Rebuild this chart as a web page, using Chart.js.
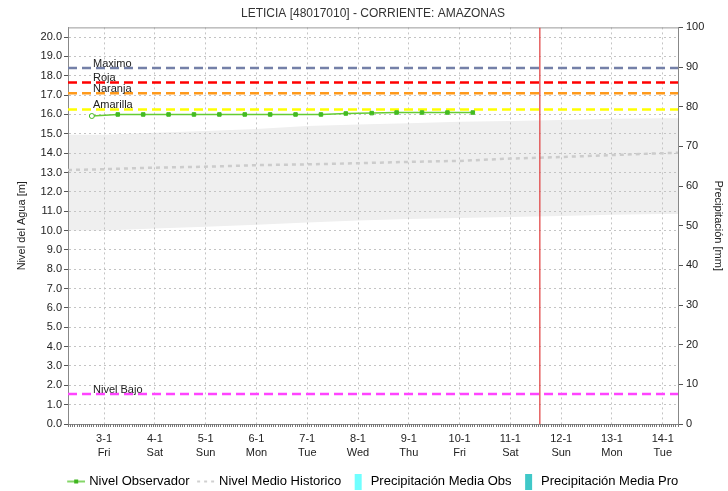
<!DOCTYPE html>
<html>
<head>
<meta charset="utf-8">
<script src="https://cdn.jsdelivr.net/npm/chart.js@4/dist/chart.umd.min.js"></script>
<style>
  html, body { margin: 0; padding: 0; background: #fff; }
  #wrap { width: 728px; height: 491px; }
</style>
</head>
<body>
<div id="wrap"><canvas id="c"></canvas></div>
<script>
// eje x en dias de enero
const tickDays = [3, 4, 5, 6, 7, 8, 9, 10, 11, 12, 13, 14];
const tickLabels = ["3-1", "4-1", "5-1", "6-1", "7-1", "8-1", "9-1", "10-1", "11-1", "12-1", "13-1", "14-1"];
const weekdays = ["Fri", "Sat", "Sun", "Mon", "Tue", "Wed", "Thu", "Fri", "Sat", "Sun", "Mon", "Tue"];
const xMin = 2.29;
const xMax = 14.3;

// ticks de los ejes y
const levelTicks = [0, 1, 2, 3, 4, 5, 6, 7, 8, 9, 10, 11, 12, 13, 14, 15, 16, 17, 18, 19, 20];
const precipTicks = [0, 10, 20, 30, 40, 50, 60, 70, 80, 90, 100];

// nivel observado (cada 12 h)
const obsDays = [2.76, 3.27, 3.77, 4.27, 4.77, 5.27, 5.77, 6.27, 6.77, 7.27, 7.76, 8.27, 8.76, 9.26, 9.76, 10.26];
const obsLevels = [15.92, 16.0, 16.0, 16.0, 16.0, 16.0, 16.0, 16.0, 16.0, 16.0, 16.05, 16.07, 16.1, 16.1, 16.1, 16.1];

// historico
const histDays = [2.29, 3, 4, 5, 6, 7, 8, 9, 10, 11, 12, 13, 14, 14.3];
const histMean = [13.13, 13.17, 13.25, 13.3, 13.38, 13.42, 13.48, 13.55, 13.6, 13.72, 13.8, 13.9, 14.0, 14.02];
const histUpper = [14.95, 14.95, 15.05, 15.15, 15.25, 15.4, 15.48, 15.55, 15.62, 15.66, 15.72, 15.78, 15.8, 15.8];
const histLower = [10.0, 10.0, 10.1, 10.2, 10.3, 10.42, 10.52, 10.6, 10.65, 10.7, 10.75, 10.82, 10.85, 10.85];

// precipitacion (sin valores)
const precipObs = [];
const precipPro = [];

// umbrales
const thresholdNames = ["Maximo", "Roja", "Naranja", "Amarilla", "Nivel Bajo"];
const thresholdLevels = [18.4, 17.65, 17.1, 16.25, 1.55];
const thresholdColors = ["#7480a8", "#ff0000", "#ff9a1c", "#ffff00", "#ff44ff"];

const nowDay = 11.58;

const FONT = "'Liberation Sans', Arial, sans-serif";

const pts = (xs, ys) => xs.map((x, i) => ({ x: x, y: ys[i] }));

function icon(kind) {
  const cv = document.createElement("canvas");
  cv.width = 20; cv.height = 16;
  const g = cv.getContext("2d");
  if (kind === "obs") {
    g.strokeStyle = "#5dc837"; g.lineWidth = 1.5;
    g.beginPath(); g.moveTo(2, 8); g.lineTo(20, 8); g.stroke();
    g.fillStyle = "#3fb51f"; g.fillRect(9, 6, 4, 4);
  } else if (kind === "mean") {
    g.strokeStyle = "#d0d0d0"; g.lineWidth = 2; g.setLineDash([3, 4]);
    g.beginPath(); g.moveTo(2, 8); g.lineTo(20, 8); g.stroke();
  } else {
    g.fillStyle = kind === "pobs" ? "#70ffff" : "#40c8c8";
    g.fillRect(8, 0, 7, 16);
  }
  return cv;
}

const datasets = [
  { label: "banda_sup", data: pts(histDays, histUpper), fill: "+1", backgroundColor: "#efefef",
    borderWidth: 0, pointRadius: 0, order: 20 },
  { label: "banda_inf", data: pts(histDays, histLower), fill: false,
    borderWidth: 0, pointRadius: 0, order: 20 },
  { label: "Nivel Medio Historico", data: pts(histDays, histMean), borderColor: "#cccccc",
    borderWidth: 2.5, borderDash: [4, 4], pointRadius: 0, fill: false, order: 10 },
];
thresholdLevels.forEach((lvl, i) => {
  datasets.push({ label: thresholdNames[i], data: [{ x: xMin, y: lvl }, { x: xMax, y: lvl }],
    borderColor: thresholdColors[i], borderWidth: 2.5, borderDash: [9, 5], pointRadius: 0, fill: false, order: 5 });
});
datasets.push({ label: "Nivel Observador", data: pts(obsDays, obsLevels), borderColor: "#66cc33",
  borderWidth: 1.5, pointStyle: obsDays.map((d, i) => i === 0 ? "circle" : "rect"),
  pointRadius: 2.5, pointBackgroundColor: obsDays.map((d, i) => i === 0 ? "#ffffff" : "#44bb22"),
  pointBorderColor: "#44bb22", pointBorderWidth: 1, fill: false, order: 2 });
datasets.push({ label: "ahora", data: [{ x: nowDay, y: 0 }, { x: nowDay, y: 20.5 }], borderColor: "#e03a3a",
  borderWidth: 1.2, pointRadius: 0, fill: false, order: 0 });
datasets.push({ type: "bar", label: "Precipitación Media Obs", data: precipObs, yAxisID: "y2", backgroundColor: "#70ffff" });
datasets.push({ type: "bar", label: "Precipitación Media Pro", data: precipPro, yAxisID: "y2", backgroundColor: "#40c8c8" });

const legendItems = [
  ["Nivel Observador", "obs"],
  ["Nivel Medio Historico", "mean"],
  ["Precipitación Media Obs", "pobs"],
  ["Precipitación Media Pro", "ppro"],
];

const extras = {
  id: "extras",
  afterLayout(chart) {
    // centrar titulo y leyenda sobre el area del grafico
    const shift = (chart.chartArea.left + chart.chartArea.right) / 2 - chart.width / 2;
    [chart.titleBlock, chart.legend].forEach((b) => { if (b) { b.left += shift; b.right += shift; } });
  },
  beforeDatasetsDraw(chart) {
    const { ctx, chartArea: a, scales } = chart;
    ctx.save();
    // regla horaria en el eje x
    ctx.strokeStyle = "#777"; ctx.lineWidth = 1;
    ctx.beginPath();
    for (let t = Math.ceil(xMin * 24); t <= xMax * 24; t++) {
      const px = Math.round(scales.x.getPixelForValue(t / 24)) + 0.5;
      ctx.moveTo(px, a.bottom); ctx.lineTo(px, a.bottom + 3);
    }
    ctx.stroke();
    // borde superior
    ctx.strokeStyle = "#999";
    ctx.beginPath(); ctx.moveTo(a.left, a.top + 0.5); ctx.lineTo(a.right, a.top + 0.5); ctx.stroke();
    ctx.restore();
  },
  afterDatasetsDraw(chart) {
    const { ctx, chartArea: a, scales } = chart;
    ctx.save();
    ctx.font = "11px " + FONT;
    ctx.fillStyle = "#222";
    ctx.textAlign = "left";
    ctx.textBaseline = "alphabetic";
    thresholdLevels.forEach((lvl, i) => {
      ctx.fillText(thresholdNames[i], a.left + 25, scales.y.getPixelForValue(lvl) - 1.5);
    });
    ctx.restore();
  }
};

new Chart(document.getElementById("c"), {
  type: "line",
  data: { datasets: datasets },
  plugins: [extras],
  options: {
    responsive: true,
    maintainAspectRatio: false,
    animation: false,
    layout: { padding: { top: 0, left: 0, right: 0, bottom: -7 } },
    plugins: {
      filler: { drawTime: "beforeDraw" },
      tooltip: { enabled: false },
      title: {
        display: true,
        text: "LETICIA [48017010] - CORRIENTE: AMAZONAS",
        color: "#333",
        font: { family: FONT, size: 12, weight: "normal", lineHeight: 1.2 },
        padding: { top: 6, bottom: 7 },
      },
      legend: {
        display: true,
        position: "bottom",
        labels: {
          usePointStyle: true,
          pointStyleWidth: 15,
          padding: 8,
          color: "#222",
          font: { family: FONT, size: 13 },
          generateLabels: () => legendItems.map(([text, kind], i) => ({
            text: text, pointStyle: icon(kind), fillStyle: "#fff", strokeStyle: "#fff",
            lineWidth: 0, hidden: false, datasetIndex: i,
          })),
        },
      },
    },
    scales: {
      x: {
        type: "linear",
        offset: false,
        min: xMin,
        max: xMax,
        afterBuildTicks: (s) => { s.ticks = tickDays.map((v) => ({ value: v })); },
        afterFit: (s) => { s.height = 43; },
        ticks: {
          color: "#222",
          padding: 8,
          maxRotation: 0,
          autoSkip: false,
          font: { family: FONT, size: 11, lineHeight: 1.25 },
          callback: (v) => {
            const i = tickDays.indexOf(v);
            return i < 0 ? "" : [tickLabels[i], weekdays[i]];
          },
        },
        grid: { color: "#c4c4c4", lineWidth: 1, drawTicks: false, offset: false },
        border: { color: "#888", width: 1, dash: [2, 3] },
      },
      y: {
        position: "left",
        min: 0,
        max: 20.5,
        afterBuildTicks: (s) => { s.ticks = levelTicks.map((v) => ({ value: v })); },
        afterFit: (s) => { s.width = 68; },
        ticks: {
          color: "#222",
          padding: 2,
          font: { family: FONT, size: 11 },
          callback: (v) => v.toFixed(1),
        },
        title: {
          display: true,
          text: "Nivel del Agua [m]",
          color: "#222",
          font: { family: FONT, size: 11 },
          padding: { top: 15, bottom: 0 },
        },
        grid: { color: "#c4c4c4", lineWidth: 1, tickLength: 4, tickColor: "#555" },
        border: { color: "#888", width: 1, dash: [2, 3] },
      },
      y2: {
        position: "right",
        min: 0,
        max: 100,
        afterBuildTicks: (s) => { s.ticks = precipTicks.map((v) => ({ value: v })); },
        afterFit: (s) => { s.width = 50; },
        ticks: {
          color: "#222",
          padding: 3,
          font: { family: FONT, size: 11 },
        },
        title: {
          display: true,
          text: "Precipitación [mm]",
          color: "#222",
          font: { family: FONT, size: 11 },
          padding: { top: 3, bottom: 0 },
        },
        grid: { drawOnChartArea: false, tickLength: 5, tickColor: "#555" },
        border: { color: "#888", width: 1 },
      },
    },
  },
});
</script>
</body>
</html>
